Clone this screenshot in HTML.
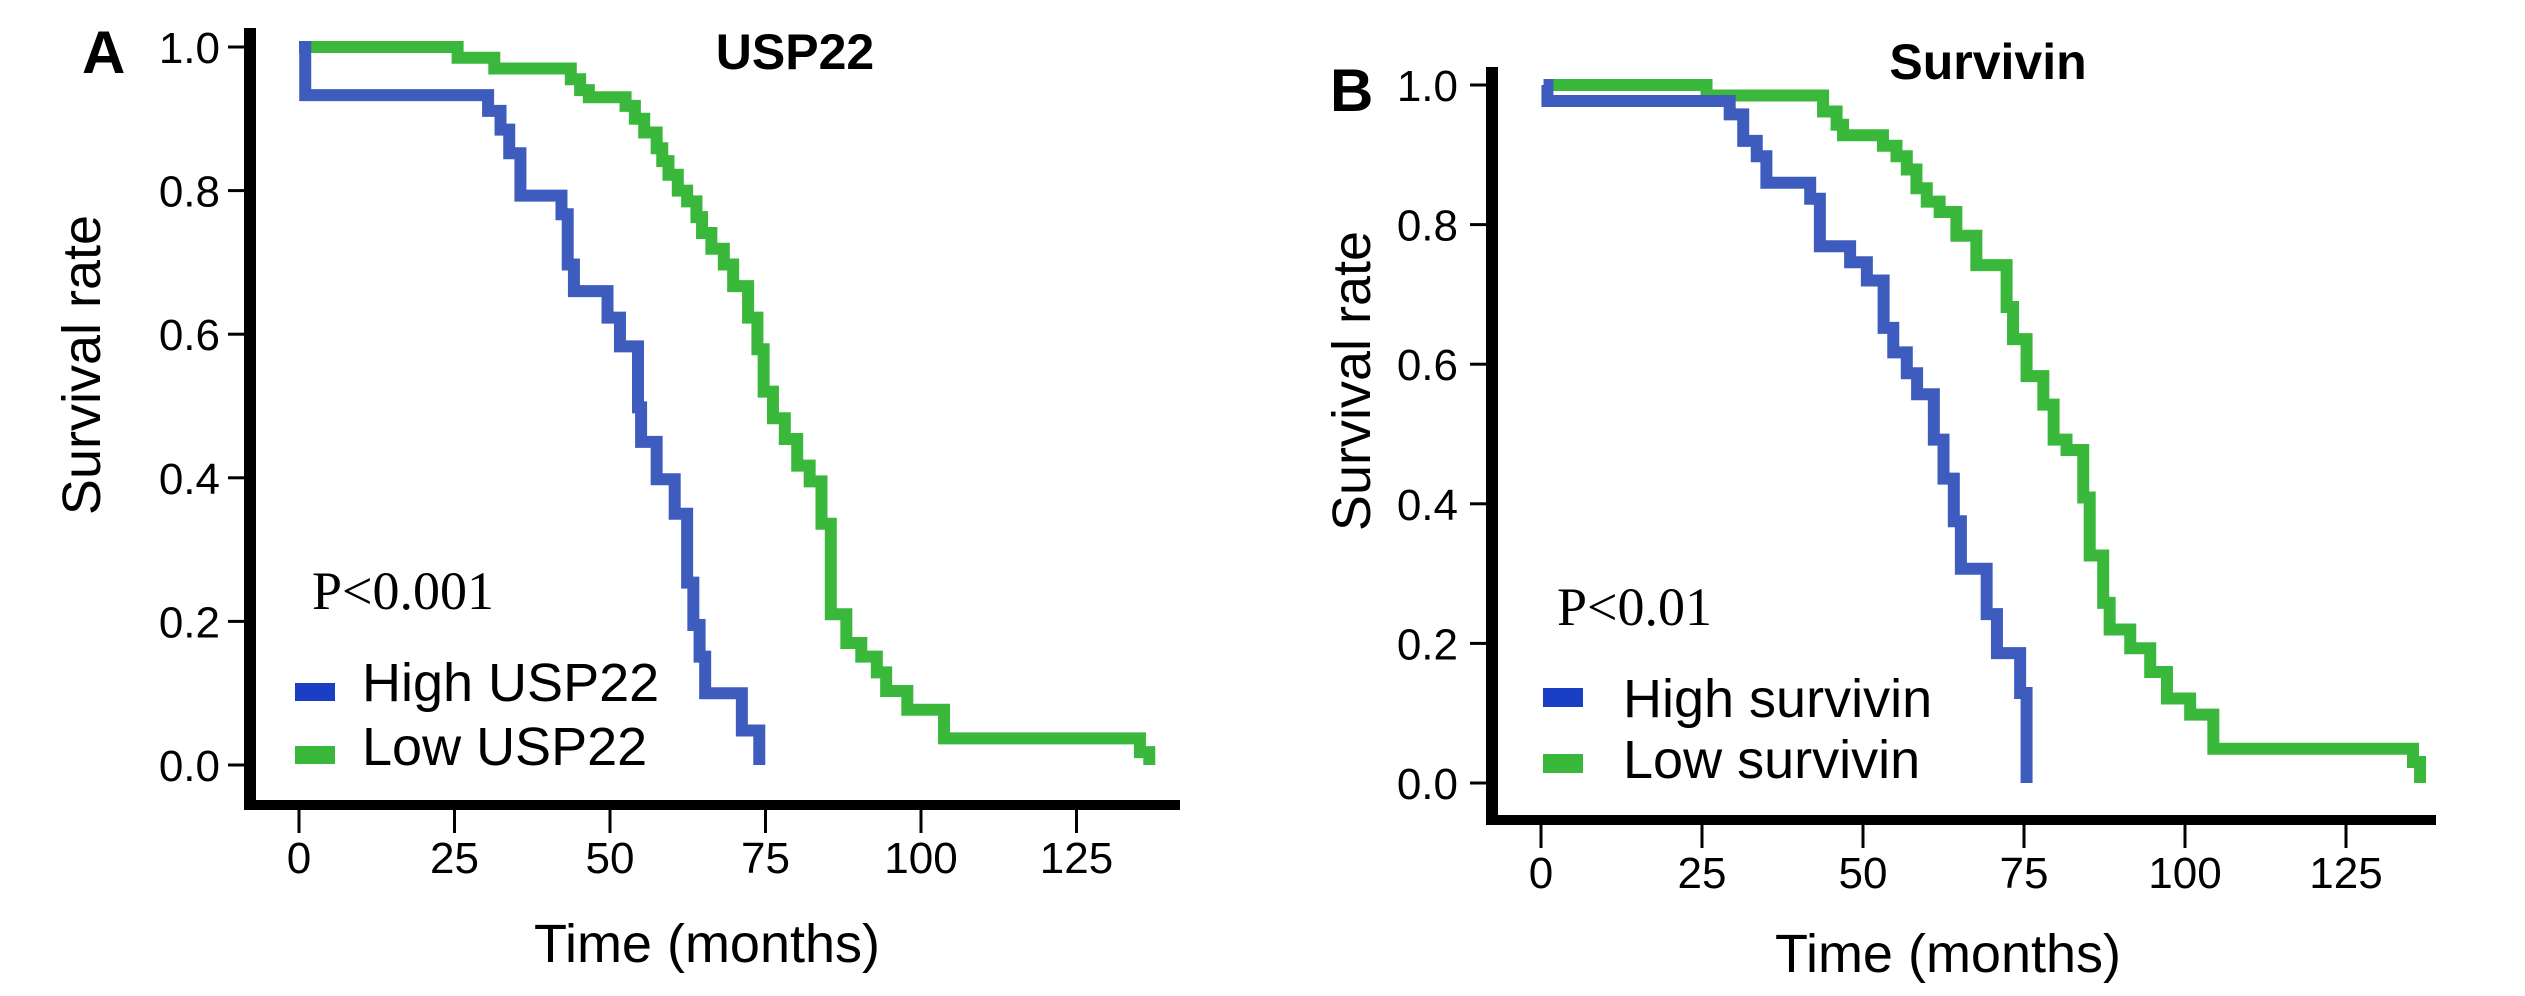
<!DOCTYPE html>
<html><head><meta charset="utf-8"><style>
html,body{margin:0;padding:0;background:#fff;}
svg{display:block;}
text{font-family:"Liberation Sans",Arial,sans-serif;fill:#000;}
</style></head><body>
<svg id="fig" width="2525" height="996" viewBox="0 0 2525 996" xmlns="http://www.w3.org/2000/svg"></svg>
<script>
// ---- data ----
const xTicks = [0, 25, 50, 75, 100, 125];
const yTicks = [0.0, 0.2, 0.4, 0.6, 0.8, 1.0];
const yTickLabels = ["0.0", "0.2", "0.4", "0.6", "0.8", "1.0"];

const aHighTimes = [0, 1, 30.4, 32.4, 33.8, 35.6, 42.2, 43.2, 44.2, 49.6, 51.6, 54.5, 55.0, 57.5, 60.4, 62.4, 63.4, 64.4, 65.3, 71.2, 74.0];
const aHighSurv  = [1.0, 0.933, 0.911, 0.885, 0.852, 0.793, 0.767, 0.697, 0.66, 0.623, 0.583, 0.498, 0.45, 0.398, 0.35, 0.254, 0.195, 0.151, 0.1, 0.048, 0.0];

const aLowTimes = [0, 25.5, 31.4, 43.7, 45.2, 46.6, 52.5, 54.0, 55.5, 57.5, 58.4, 59.4, 60.9, 62.4, 63.9, 64.8, 66.3, 68.3, 69.8, 72.2, 73.7, 74.7, 76.2, 78.1, 80.1, 82.1, 84.0, 85.5, 88.0, 90.4, 92.9, 94.4, 97.8, 103.7, 135.2, 136.7];
const aLowSurv  = [1.0, 0.985, 0.97, 0.955, 0.94, 0.93, 0.918, 0.9, 0.881, 0.859, 0.841, 0.822, 0.8, 0.785, 0.763, 0.741, 0.719, 0.697, 0.667, 0.623, 0.579, 0.52, 0.483, 0.454, 0.417, 0.395, 0.336, 0.21, 0.17, 0.151, 0.129, 0.103, 0.077, 0.037, 0.018, 0.0];

const bHighTimes = [0.4, 1, 29.3, 31.4, 33.5, 35.0, 41.8, 43.3, 48.0, 50.6, 53.2, 54.7, 56.8, 58.4, 61.0, 62.5, 64.1, 65.2, 69.2, 70.8, 74.4, 75.4];
const bHighSurv  = [1.0, 0.977, 0.958, 0.92, 0.898, 0.86, 0.837, 0.769, 0.746, 0.72, 0.652, 0.617, 0.587, 0.557, 0.492, 0.436, 0.375, 0.307, 0.242, 0.186, 0.129, 0.0];

const bLowTimes = [0.4, 25.7, 43.8, 45.9, 46.9, 53.1, 55.2, 56.8, 58.3, 59.9, 61.9, 64.5, 67.6, 72.3, 73.3, 75.4, 78.0, 79.6, 81.6, 84.2, 85.2, 87.3, 88.3, 91.5, 94.6, 97.2, 100.8, 104.4, 135.4, 136.5];
const bLowSurv  = [1.0, 0.985, 0.962, 0.943, 0.928, 0.913, 0.898, 0.879, 0.852, 0.833, 0.818, 0.784, 0.742, 0.682, 0.636, 0.583, 0.542, 0.492, 0.477, 0.409, 0.326, 0.258, 0.22, 0.193, 0.159, 0.121, 0.098, 0.049, 0.03, 0.0];

const BLUE = "#3d5cbd", GREEN = "#39b83c";
const svg = document.getElementById('fig');
const NS = "http://www.w3.org/2000/svg";
function mk(tag, attrs, parent) {
  const e = document.createElementNS(NS, tag);
  for (const k in attrs) e.setAttribute(k, attrs[k]);
  (parent || svg).appendChild(e);
  return e;
}

const panels = [
  {id:'a', letter:'A', lx:82, ly:73, title:'USP22', tx:795, ty:69,
   axX:250, axTop:28, axRight:1180, axY:805, x0:299, pxPerM:6.22, y1:47, y0:765,
   tickLabelRight:220, ylabX:100, ylabY:365, xlabX:707, xlabY:962,
   p:'P<0.001', px:312, py:609,
   leg:[{sq:[295,683,40,18], tx:362, ty:701, label:'High USP22', c:'#1b3fc4'},
        {sq:[295,746,40,18], tx:362, ty:765, label:'Low USP22', c:GREEN}],
   high:[aHighTimes,aHighSurv], low:[aLowTimes,aLowSurv]},
  {id:'b', letter:'B', lx:1330, ly:111, title:'Survivin', tx:1988, ty:79,
   axX:1492, axTop:67, axRight:2436, axY:820, x0:1541, pxPerM:6.44, y1:85, y0:783,
   tickLabelRight:1458, ylabX:1370, ylabY:381, xlabX:1948, xlabY:972,
   p:'P<0.01', px:1557, py:625,
   leg:[{sq:[1543,688,40,19], tx:1623, ty:717, label:'High survivin', c:'#1b3fc4'},
        {sq:[1543,754,40,19], tx:1623, ty:778, label:'Low survivin', c:GREEN}],
   high:[bHighTimes,bHighSurv], low:[bLowTimes,bLowSurv]}
];

panels.forEach(P => {
  const g = mk('g', {});
  
  
  const xs = m => P.x0 + m * P.pxPerM;
  const ys = v => P.y0 - v * (P.y0 - P.y1);

  const L = mk('text', {x:P.lx, y:P.ly, 'font-size':60, 'font-weight':'bold'}, g);
  L.textContent = P.letter;
  
  

  const T = mk('text', {x:P.tx, y:P.ty, 'font-size':50, 'font-weight':'bold', 'text-anchor':'middle'}, g);
  T.textContent = P.title;
  
  

  const ya = mk('line', {x1:P.axX, y1:P.axTop, x2:P.axX, y2:P.axY + 5, stroke:'#000', 'stroke-width':12}, g);
  
  
  const xa = mk('line', {x1:P.axX - 6, y1:P.axY, x2:P.axRight, y2:P.axY, stroke:'#000', 'stroke-width':10}, g);
  
  

  yTicks.forEach((v, i) => {
    const y = ys(v);
    const tk = mk('line', {x1:P.axX - 22, y1:y, x2:P.axX - 6, y2:y, stroke:'#000', 'stroke-width':3}, g);
    
    
    const t = mk('text', {x:P.tickLabelRight, y:y + 16, 'font-size':44, 'text-anchor':'end'}, g);
    t.textContent = yTickLabels[i];
    
    
  });
  xTicks.forEach(m => {
    const x = xs(m);
    const tk = mk('line', {x1:x, y1:P.axY + 5, x2:x, y2:P.axY + 28, stroke:'#000', 'stroke-width':3}, g);
    
    
    const t = mk('text', {x:x, y:P.axY + 68, 'font-size':44, 'text-anchor':'middle'}, g);
    t.textContent = String(m);
    
    
  });

  const yl = mk('text', {x:0, y:0, 'font-size':54, 'text-anchor':'middle', transform:`translate(${P.ylabX},${P.ylabY}) rotate(-90)`}, g);
  yl.textContent = 'Survival rate';
  
  
  const xl = mk('text', {x:P.xlabX, y:P.xlabY, 'font-size':54, 'text-anchor':'middle'}, g);
  xl.textContent = 'Time (months)';
  
  

  function step(times, surv, color, name) {
    let d = `M${xs(times[0])},${ys(surv[0])}`;
    for (let i = 1; i < times.length; i++) {
      d += ` H${xs(times[i])} V${ys(surv[i])}`;
    }
    const p = mk('path', {d:d, fill:'none', stroke:color, 'stroke-width':12, 'stroke-linejoin':'miter', 'stroke-linecap':'butt'}, g);
    
    
  }
  step(P.low[0], P.low[1], GREEN, 'low-curve-' + P.id);
  step(P.high[0], P.high[1], BLUE, 'high-curve-' + P.id);

  const pt = mk('text', {x:P.px, y:P.py, 'font-size':54, style:'font-family:"Liberation Serif",serif'}, g);
  pt.textContent = P.p;
  
  

  P.leg.forEach(e => {
    const r = mk('rect', {x:e.sq[0], y:e.sq[1], width:e.sq[2], height:e.sq[3], fill:e.c}, g);
    
    
    const t = mk('text', {x:e.tx, y:e.ty, 'font-size':54}, g);
    t.textContent = e.label;
    
    
  });
});
</script>
</body></html>
